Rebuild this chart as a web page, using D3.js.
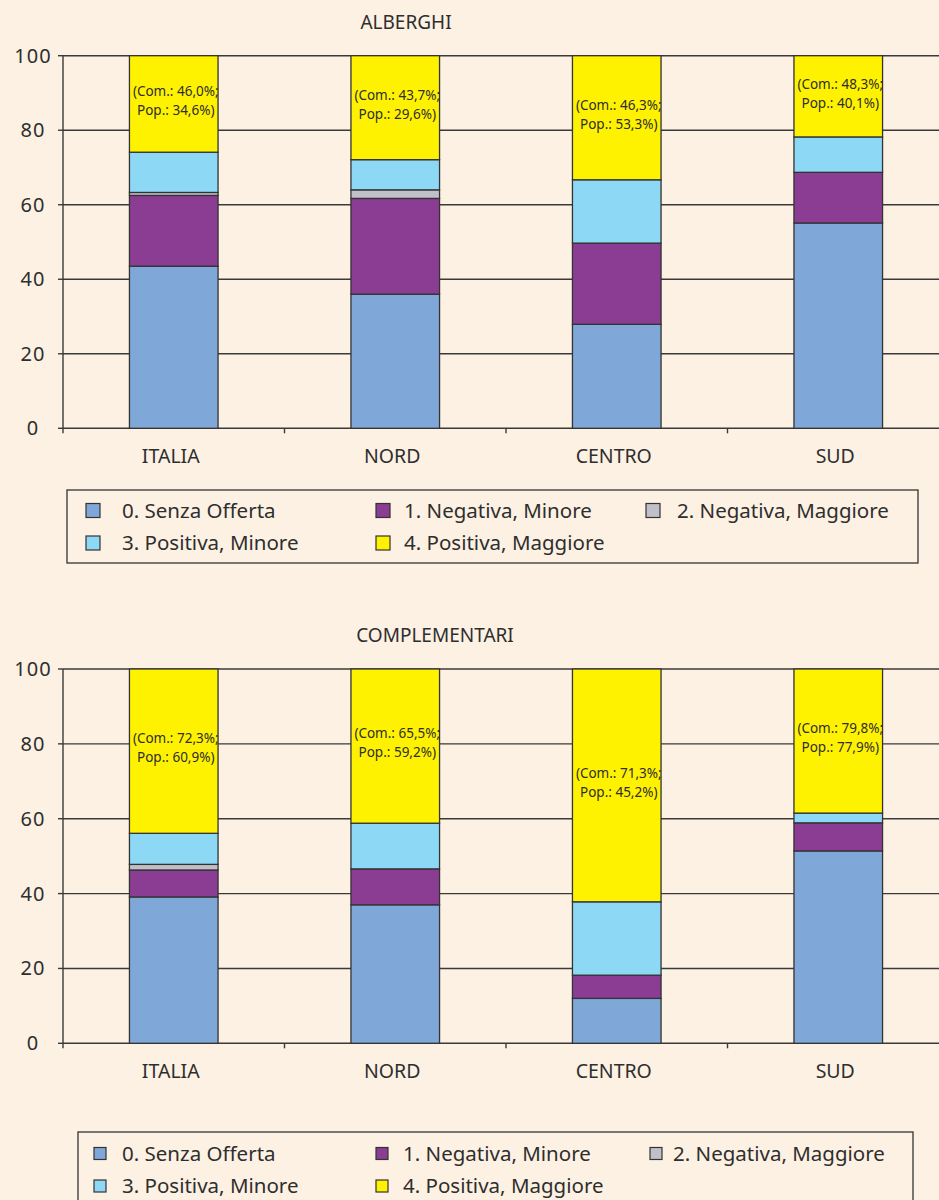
<!DOCTYPE html>
<html>
<head>
<meta charset="utf-8">
<script src="https://cdn.jsdelivr.net/npm/d3@7"></script>
<style>
  html, body { margin: 0; padding: 0; background: #fdf1e3; }
  svg { display: block; }
  text { font-family: "Noto Sans", "DejaVu Sans", sans-serif; fill: #2e2e2e; }
</style>
</head>
<body>
<svg id="chart" width="939" height="1200"></svg>
<script>
// ---------- DATA ----------
const categories = ["ITALIA", "NORD", "CENTRO", "SUD"];
const seriesNames = ["0. Senza Offerta", "1. Negativa, Minore", "2. Negativa, Maggiore", "3. Positiva, Minore", "4. Positiva, Maggiore"];
const seriesColors = ["#7fa7d8", "#8b3c93", "#c0c1c8", "#8dd8f5", "#fff200"];
const yTicks = [0, 20, 40, 60, 80, 100];

// ALBERGHI
const albSenzaOfferta     = [43.5, 36.0, 27.9, 55.1];
const albNegativaMinore   = [19.0, 25.7, 21.8, 13.6];
const albNegativaMaggiore = [0.8, 2.3, 0, 0];
const albPositivaMinore   = [10.8, 8.1, 17.0, 9.5];
const albPositivaMaggiore = [25.9, 27.9, 33.3, 21.8];
const albCom = ["46,0%", "43,7%", "46,3%", "48,3%"];
const albPop = ["34,6%", "29,6%", "53,3%", "40,1%"];

// COMPLEMENTARI
const comSenzaOfferta     = [39.1, 37.0, 12.0, 51.4];
const comNegativaMinore   = [7.2, 9.6, 6.2, 7.5];
const comNegativaMaggiore = [1.5, 0, 0, 0];
const comPositivaMinore   = [8.3, 12.2, 19.6, 2.6];
const comPositivaMaggiore = [43.9, 41.2, 62.2, 38.5];
const comCom = ["72,3%", "65,5%", "71,3%", "79,8%"];
const comPop = ["60,9%", "59,2%", "45,2%", "77,9%"];

// ---------- DRAW ----------
const svg = d3.select("#chart");

function buildRows(series) {
  return categories.map((c, i) => {
    const row = { cat: c };
    seriesNames.forEach((s, k) => row[s] = series[k][i]);
    return row;
  });
}

function drawChart(opts) {
  const g = svg.append("g");
  const left = 63, right = 949;
  const x = d3.scaleBand().domain(categories).range([left, right])
    .paddingInner(0.6).paddingOuter(0.3);
  const step = x.step();
  const y = d3.scaleLinear().domain([0, 100]).range([opts.y0, opts.y100]);

  // title
  g.append("text").attr("x", opts.titleX).attr("y", opts.y100 - 27)
    .attr("text-anchor", "middle").attr("font-size", 19).text(opts.title);

  // gridlines
  g.selectAll("line.grid").data(yTicks).join("line")
    .attr("x1", left).attr("x2", 939)
    .attr("y1", d => y(d)).attr("y2", d => y(d))
    .attr("stroke", "#3a3a3a").attr("stroke-width", 1.4);

  // y axis line + ticks
  g.append("line").attr("x1", left).attr("x2", left)
    .attr("y1", y(100)).attr("y2", y(0)).attr("stroke", "#3a3a3a").attr("stroke-width", 1.4);
  g.selectAll("line.ytick").data(yTicks).join("line")
    .attr("x1", left - 5).attr("x2", left)
    .attr("y1", d => y(d)).attr("y2", d => y(d))
    .attr("stroke", "#3a3a3a").attr("stroke-width", 1.4);
  g.selectAll("text.ylab").data(yTicks).join("text")
    .attr("x", 33).attr("y", d => y(d)).attr("dy", "0.35em")
    .attr("text-anchor", "middle").attr("font-size", 20).attr("letter-spacing", 1)
    .text(d => d);

  // category boundary ticks
  const bounds = d3.range(categories.length).map(i => left + i * step);
  g.selectAll("line.xtick").data(bounds).join("line")
    .attr("x1", d => d).attr("x2", d => d)
    .attr("y1", y(0)).attr("y2", y(0) + 5)
    .attr("stroke", "#3a3a3a").attr("stroke-width", 1.4);
  g.selectAll("text.xlab").data(categories).join("text")
    .attr("x", d => x(d) + x.bandwidth() / 2 - 3).attr("y", y(0) + 35)
    .attr("text-anchor", "middle").attr("font-size", 19.5).text(d => d);

  // stacked bars
  const rows = buildRows(opts.series);
  const stacked = d3.stack().keys(seriesNames)(rows);
  stacked.forEach((layer, k) => {
    g.append("g").selectAll("rect").data(layer.filter(d => d[1] - d[0] > 0)).join("rect")
      .attr("x", d => x(d.data.cat))
      .attr("width", x.bandwidth())
      .attr("y", d => y(d[1]))
      .attr("height", d => y(d[0]) - y(d[1]))
      .attr("fill", seriesColors[k])
      .attr("stroke", "#333").attr("stroke-width", 1.3);
  });

  // labels inside top segment
  const top = stacked[stacked.length - 1];
  top.forEach((d, i) => {
    const cx = x(d.data.cat) + x.bandwidth() / 2 + 2;
    const cy = (y(d[0]) + y(d[1])) / 2 - 3;
    const t = g.append("text").attr("text-anchor", "middle").attr("font-size", 13.5)
      .attr("fill", "#3d3d28");
    t.append("tspan").attr("x", cx).attr("y", cy - 9.5).attr("dy", "0.35em")
      .text("(Com.: " + opts.com[i] + ";");
    t.append("tspan").attr("x", cx).attr("y", cy + 9.5).attr("dy", "0.35em")
      .text("Pop.: " + opts.pop[i] + ")");
  });

  // legend
  const L = opts.legend;
  g.append("rect").attr("x", L.x).attr("y", L.y).attr("width", L.w).attr("height", L.h)
    .attr("fill", "none").attr("stroke", "#333").attr("stroke-width", 1.3);
  const items = seriesNames.map((s, k) => ({ s, k, col: k < 3 ? k : k - 3, row: k < 3 ? 0 : 1 }));
  const li = g.selectAll("g.li").data(items).join("g");
  li.append("rect").attr("x", d => L.sqX[d.col]).attr("y", d => L.rows[d.row] - L.sq / 2)
    .attr("width", L.sq).attr("height", L.sq)
    .attr("fill", d => seriesColors[d.k]).attr("stroke", "#333").attr("stroke-width", 1.2);
  li.append("text").attr("x", d => L.txX[d.col]).attr("y", d => L.rows[d.row]).attr("dy", "0.35em")
    .attr("font-size", 20.5).text(d => d.s);
}

drawChart({
  title: "ALBERGHI", titleX: 406,
  y0: 428.3, y100: 55.7,
  series: [albSenzaOfferta, albNegativaMinore, albNegativaMaggiore, albPositivaMinore, albPositivaMaggiore],
  com: albCom, pop: albPop,
  legend: { x: 67, y: 490, w: 851, h: 73, rows: [510.5, 543], sqX: [86, 376, 646], txX: [122, 404, 677], sq: 14 }
});

drawChart({
  title: "COMPLEMENTARI", titleX: 435,
  y0: 1043.3, y100: 669,
  series: [comSenzaOfferta, comNegativaMinore, comNegativaMaggiore, comPositivaMinore, comPositivaMaggiore],
  com: comCom, pop: comPop,
  legend: { x: 78, y: 1132, w: 835, h: 90, rows: [1153.5, 1186], sqX: [94, 376, 650], txX: [122, 403, 673], sq: 12 }
});
</script>
</body>
</html>
